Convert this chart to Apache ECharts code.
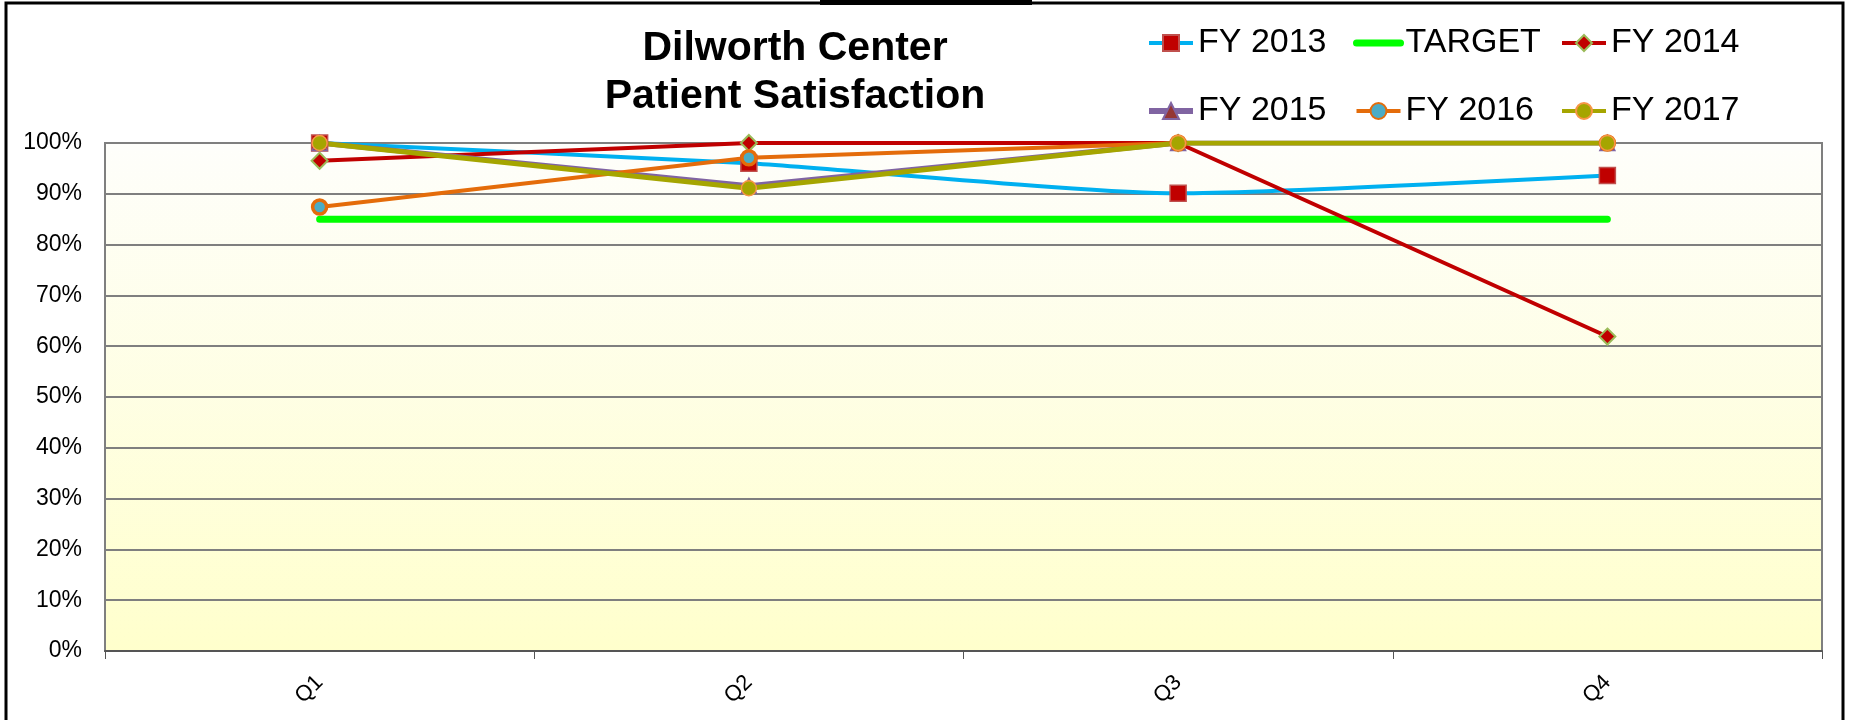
<!DOCTYPE html>
<html>
	<head>
		<meta charset="utf-8" />
		<title>Dilworth Center Patient Satisfaction</title>
		<script type="text/javascript" src="https://cdn.jsdelivr.net/npm/echarts@6/dist/echarts.min.js"></script>
		<style>
			html, body { margin: 0; padding: 0; background: #fff; }
			#chart { width: 1849px; height: 720px; }
		</style>
	</head>
	<body>
		<div id="chart"></div>
		<script type="text/javascript">
			// data (percent)
			var quarters = ['Q1', 'Q2', 'Q3', 'Q4'];
			var fy2013 = [100, 96.0, 90.1, 93.6];
			var target = [85, 85, 85, 85];
			var fy2014 = [96.5, 100, 100, 61.9];
			var fy2015 = [100, 91.6, 100, 100];
			var fy2016 = [87.4, 97.1, 100, 100];
			var fy2017 = [100, 91.1, 100, 100];
			var yTicks = [0, 10, 20, 30, 40, 50, 60, 70, 80, 90, 100];

			var font = "'Liberation Sans', Arial, sans-serif";

			var myChart = echarts.init(document.getElementById('chart'));

			// legend entries get their own line width, the default one is too thin
			function legendBlock(left, items) {
				return {
					orient: 'vertical',
					left: left,
					top: 23,
					padding: 0,
					itemWidth: 44,
					itemHeight: 20,
					itemGap: 28,
					data: items,
					textStyle: { fontFamily: font, fontSize: 34, color: '#000', lineHeight: 40 }
				};
			}

			var option = {
				animation: false,
				backgroundColor: '#fff',
				title: {
					text: 'Dilworth Center\nPatient Satisfaction',
					left: 795,
					top: 25,
					padding: 0,
					textAlign: 'center',
					textStyle: { fontFamily: font, fontSize: 41, fontWeight: 'bold', color: '#000', lineHeight: 48 }
				},
				legend: [
					legendBlock(1146, [
						{ name: 'FY 2013', lineStyle: { width: 4 } },
						{ name: 'FY 2015', lineStyle: { width: 6 } }
					]),
					legendBlock(1353, [
						{ name: 'TARGET', lineStyle: { width: 7, cap: 'round' }, itemStyle: { opacity: 0 } },
						{ name: 'FY 2016', lineStyle: { width: 4 } }
					]),
					legendBlock(1560, [
						{ name: 'FY 2014', lineStyle: { width: 4 } },
						{ name: 'FY 2017', lineStyle: { width: 4 } }
					])
				],
				grid: {
					left: 105,
					right: 27,
					top: 143,
					height: 508,
					show: true,
					borderColor: '#7f7f7f',
					borderWidth: 2,
					backgroundColor: {
						type: 'linear', x: 0, y: 0, x2: 0, y2: 1,
						colorStops: [
							{ offset: 0, color: '#fefefb' },
							{ offset: 1, color: '#ffffcc' }
						]
					}
				},
				xAxis: {
					type: 'category',
					data: quarters,
					boundaryGap: true,
					axisLine: { lineStyle: { color: '#555', width: 2 } },
					axisTick: { show: true, length: 8, interval: 0, lineStyle: { color: '#555', width: 1 } },
					axisLabel: { rotate: 45, margin: 28, fontFamily: font, fontSize: 22, color: '#000' },
					splitLine: { show: false }
				},
				yAxis: {
					type: 'value',
					min: yTicks[0],
					max: yTicks[yTicks.length - 1],
					interval: 10,
					axisLine: { show: true, lineStyle: { color: '#7f7f7f', width: 2 } },
					axisTick: { show: false },
					axisLabel: { formatter: '{value}%', margin: 23, fontFamily: font, fontSize: 23, color: '#000' },
					splitLine: { lineStyle: { color: '#7f7f7f', width: 2 } }
				},
				series: [
					{
						name: 'FY 2013', type: 'line', data: fy2013, smooth: 0.2,
						symbol: 'rect', symbolSize: 16,
						lineStyle: { color: '#00b0f0', width: 4 },
						itemStyle: { color: '#c00000', borderColor: '#c0504d', borderWidth: 1.5 }
					},
					{
						name: 'TARGET', type: 'line', data: target,
						symbol: 'none',
						lineStyle: { color: '#00ff00', width: 7, cap: 'round' },
						itemStyle: { color: '#00ff00' }
					},
					{
						name: 'FY 2014', type: 'line', data: fy2014,
						symbol: 'diamond', symbolSize: 16,
						lineStyle: { color: '#c00000', width: 4 },
						itemStyle: { color: '#c00000', borderColor: '#9bbb59', borderWidth: 2 }
					},
					{
						name: 'FY 2015', type: 'line', data: fy2015,
						symbol: 'triangle', symbolSize: 15,
						lineStyle: { color: '#8064a2', width: 5 },
						itemStyle: { color: '#953735', borderColor: '#8064a2', borderWidth: 1.5 }
					},
					{
						name: 'FY 2016', type: 'line', data: fy2016,
						symbol: 'circle', symbolSize: 14,
						lineStyle: { color: '#e46c0a', width: 4 },
						itemStyle: { color: '#4bacc6', borderColor: '#e46c0a', borderWidth: 3.5 }
					},
					{
						name: 'FY 2017', type: 'line', data: fy2017,
						symbol: 'circle', symbolSize: 15,
						lineStyle: { color: '#a5a500', width: 5 },
						itemStyle: { color: '#a5a500', borderColor: '#f79646', borderWidth: 1.5 }
					}
				],
				graphic: [
					{
						type: 'rect',
						shape: { x: 6, y: 3, width: 1837, height: 730 },
						style: { fill: 'none', stroke: '#000', lineWidth: 3 },
						silent: true
					},
					{
						type: 'rect',
						shape: { x: 820, y: 0, width: 212, height: 5 },
						style: { fill: '#000' },
						silent: true
					}
				]
			};
			myChart.setOption(option);
		</script>
	</body>
</html>
